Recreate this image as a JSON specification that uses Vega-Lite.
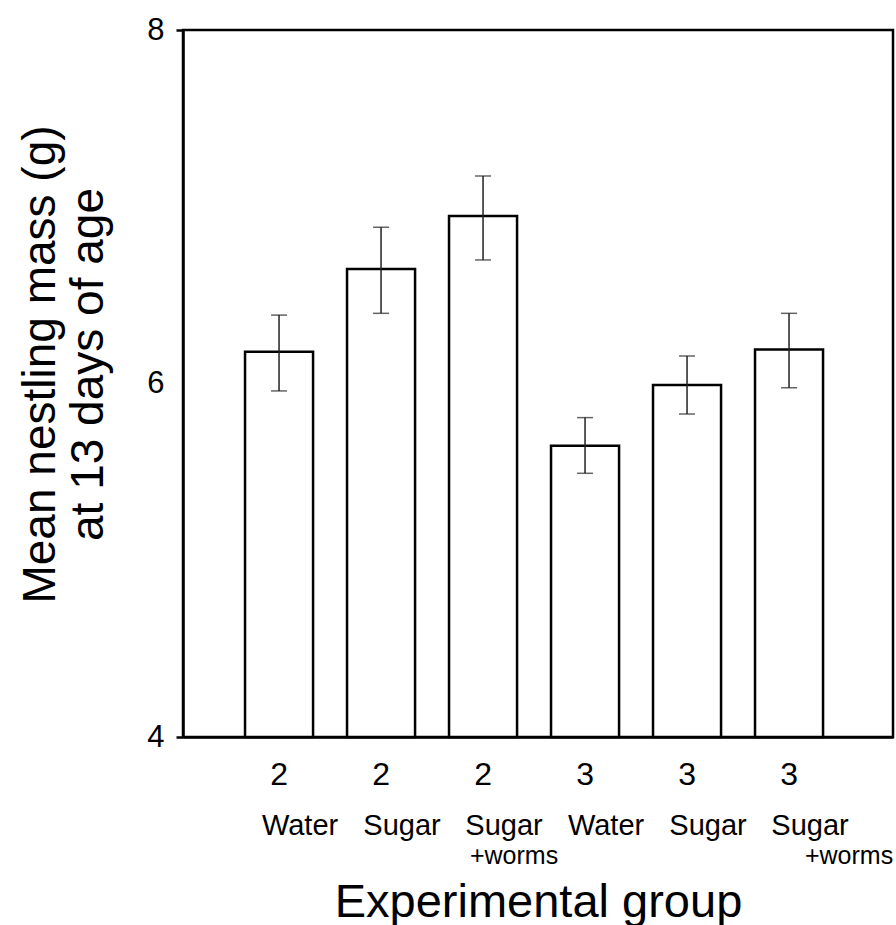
{
  "$schema": "https://vega.github.io/schema/vega-lite/v6.json",
  "width": 710,
  "height": 707,
  "autosize": "none",
  "padding": {"left": 183, "top": 30, "right": 3, "bottom": 188},
  "background": "white",
  "config": {
    "font": "Liberation Sans",
    "view": {"stroke": "black", "strokeWidth": 2.5},
    "axis": {
      "grid": false,
      "domainColor": "black",
      "domainWidth": 2.5,
      "labelColor": "black",
      "titleColor": "black",
      "titleFontWeight": "normal",
      "labelFont": "Liberation Sans",
      "titleFont": "Liberation Sans"
    },
    "axisY": {
      "titleFontSize": 46,
      "titleLineHeight": 48,
      "titlePadding": 34,
      "titleY": 334,
      "labelFontSize": 31,
      "labelPadding": 12,
      "tickSize": 7,
      "tickWidth": 2.5,
      "tickColor": "black"
    }
  },
  "data": {
    "values": [
      {"group": "2 Water", "mean": 6.18, "lo": 5.958, "hi": 6.387},
      {"group": "2 Sugar", "mean": 6.648, "lo": 6.397, "hi": 6.884},
      {"group": "2 Sugar +worms", "mean": 6.948, "lo": 6.699, "hi": 7.174},
      {"group": "3 Water", "mean": 5.648, "lo": 5.492, "hi": 5.807},
      {"group": "3 Sugar", "mean": 5.991, "lo": 5.827, "hi": 6.156},
      {"group": "3 Sugar +worms", "mean": 6.193, "lo": 5.976, "hi": 6.397}
    ]
  },
  "layer": [
    {
      "mark": {"type": "bar", "fill": "white", "stroke": "black", "strokeWidth": 2.5},
      "encoding": {
        "x": {
          "field": "group", "type": "nominal", "sort": null,
          "scale": {"paddingInner": 0.333, "paddingOuter": 0.647, "align": 0.47},
          "axis": {
            "orient": "bottom", "ticks": false, "tickSize": 0, "domain": true,
            "labelExpr": "split(datum.value,' ')[0]",
            "labelFontSize": 32, "labelPadding": 22, "labelAngle": 0, "title": null
          }
        },
        "y": {
          "field": "mean", "type": "quantitative",
          "scale": {"domain": [4, 8], "zero": false, "nice": false},
          "axis": {
            "values": [4, 6, 8],
            "labelFontSize": 31,
            "title": ["Mean nestling mass (g)", "at 13 days of age"],
            "tickOpacity": {"condition": {"test": "datum.value == 6", "value": 0}, "value": 1}
          }
        },
        "y2": {"datum": 4}
      }
    },
    {
      "mark": {"type": "rule", "color": "#222222", "strokeWidth": 1.5},
      "encoding": {
        "x": {
          "field": "group", "type": "nominal", "sort": null,
          "axis": {
            "orient": "bottom", "ticks": false, "tickSize": 0, "domain": false,
            "labelExpr": "split(datum.value,' ')[1]",
            "labelFontSize": 29, "labelPadding": 74, "labelAngle": 0,
            "labelOffset": 21, "title": null
          }
        },
        "y": {
          "field": "lo", "type": "quantitative",
          "axis": {
            "values": [4, 6, 8],
            "labelFontSize": 31,
            "title": ["Mean nestling mass (g)", "at 13 days of age"],
            "tickOpacity": {"condition": {"test": "datum.value == 6", "value": 0}, "value": 1}
          }
        },
        "y2": {"field": "hi"}
      }
    },
    {
      "mark": {"type": "tick", "color": "#222222", "thickness": 1.5, "size": 16},
      "encoding": {
        "x": {
          "field": "group", "type": "nominal", "sort": null,
          "axis": {
            "orient": "bottom", "ticks": false, "tickSize": 0, "domain": false,
            "labelExpr": "length(split(datum.value,' '))>2 ? split(datum.value,' ')[2] : ''",
            "labelFontSize": 25, "labelPadding": 106, "labelAngle": 0,
            "labelOffset": {"condition": {"test": "indexof(datum.value,'3')==0", "value": 60}, "value": 31},
            "title": "Experimental group", "titleFontSize": 47, "titlePadding": 11
          }
        },
        "y": {
          "field": "lo", "type": "quantitative",
          "axis": {
            "values": [4, 6, 8],
            "labelFontSize": 31,
            "title": ["Mean nestling mass (g)", "at 13 days of age"],
            "tickOpacity": {"condition": {"test": "datum.value == 6", "value": 0}, "value": 1}
          }
        }
      }
    },
    {
      "mark": {"type": "tick", "color": "#222222", "thickness": 1.5, "size": 16},
      "encoding": {
        "x": {"field": "group", "type": "nominal", "sort": null, "axis": null},
        "y": {
          "field": "hi", "type": "quantitative",
          "axis": {
            "values": [4, 6, 8],
            "labelFontSize": 31,
            "title": ["Mean nestling mass (g)", "at 13 days of age"],
            "tickOpacity": {"condition": {"test": "datum.value == 6", "value": 0}, "value": 1}
          }
        }
      }
    }
  ],
  "resolve": {"axis": {"x": "independent"}}
}
